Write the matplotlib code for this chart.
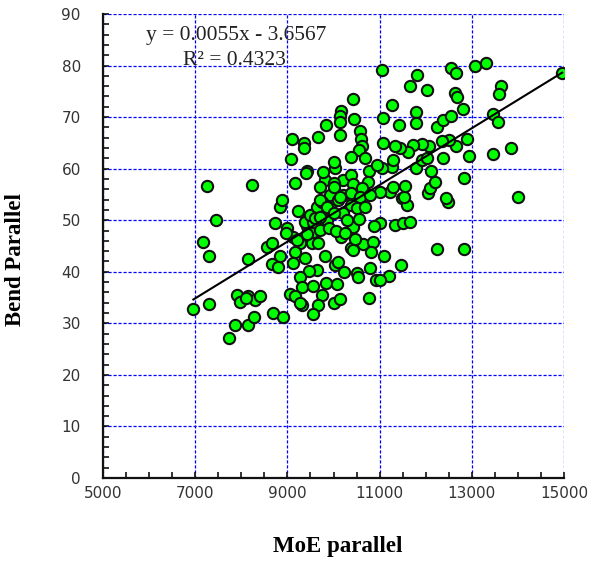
import numpy as np
import matplotlib.pyplot as plt
from matplotlib.ticker import MultipleLocator

# ── Data (MoE parallel vs Bend Parallel) ─────────────────────────────────────
moe = [
    6960, 7300, 7180, 7300, 7450, 7250, 8240, 7740, 7860, 8150,
    8270, 7900, 7970, 8150, 8300, 8400, 8110, 8150, 8560, 8660,
    8660, 8800, 8840, 8680, 8910, 8730, 8840, 8880, 9000, 9070,
    9100, 9360, 9370, 9660, 9830, 9430, 9400, 9165, 9815, 9240,
    9400, 9420, 9130, 9270, 9530, 9670, 9720, 9560, 9165, 9130,
    9380, 9815, 9635, 9475, 9270, 9310, 9560, 9840, 10070, 9060,
    9165, 9740, 9310, 9670, 9560, 10000, 10140, 10780, 10030, 10100,
    10230, 10500, 10540, 10790, 10920, 10160, 10390, 10420, 10630, 10860,
    10810, 11095, 11460, 11210, 11010, 12250, 12840, 11010, 10880, 11330,
    11500, 11670, 10420, 10470, 12475, 14010, 11480, 11590, 11520, 11225,
    12450, 12060, 12090, 11550, 11300, 12200, 12830, 12110, 11800, 11260,
    11045, 11910, 11300, 12380, 12945, 13470, 13850, 12020, 12900, 12660,
    12510, 12350, 12080, 11910, 11730, 11620, 11440, 11330, 11080, 11080,
    11420, 11800, 11800, 12240, 12370, 12540, 12815, 11260, 11670, 11820,
    12030, 12635, 12685, 12540, 12660, 13070, 13310, 11050, 14960, 13630,
    13590, 13450, 13560, 10420, 10160, 10140, 10440, 10140, 10140, 10570,
    10600, 10610, 10560, 10370, 10680, 10030, 10210, 10390, 10780, 10940,
    10000, 10420, 10750, 10610, 9920, 10210, 10390, 11010, 9920, 10100,
    10210, 10390, 10500, 10570, 10680, 10790, 9380, 9200, 8980, 9420,
    9270, 9710, 9850, 9560, 9500, 9650, 9750, 9600, 9710, 10000,
    9710, 9850, 10140, 9710, 10000, 9710, 10300, 10550, 9900, 10050,
    10250, 9780, 10020,
]
bend = [
    32.7, 33.7, 45.8, 43.0, 50.0, 56.6, 56.8, 27.2, 29.7, 29.7,
    31.3, 35.5, 34.2, 35.3, 34.5, 35.3, 34.9, 42.4, 44.9, 45.6,
    41.5, 40.9, 43.0, 32.1, 31.2, 49.4, 52.6, 53.9, 48.4, 61.8,
    65.8, 64.9, 64.1, 66.1, 68.5, 59.6, 59.2, 57.2, 57.8, 51.7,
    50.1, 48.8, 46.8, 45.5, 45.5, 45.5, 48.6, 47.8, 43.9, 41.7,
    42.6, 43.1, 40.4, 40.2, 38.9, 37.0, 37.2, 37.8, 37.6, 35.7,
    35.3, 35.4, 33.6, 33.6, 31.8, 34.0, 34.7, 34.9, 41.3, 41.9,
    40.0, 39.8, 39.0, 40.7, 38.4, 46.7, 44.6, 44.2, 45.4, 45.8,
    43.9, 43.1, 41.3, 39.2, 38.5, 44.4, 44.4, 49.4, 48.8, 49.1,
    49.5, 49.7, 48.6, 46.3, 53.6, 54.6, 54.3, 53.0, 54.6, 55.5,
    54.3, 55.2, 56.2, 56.6, 56.5, 57.5, 58.2, 59.6, 60.1, 60.4,
    60.1, 61.6, 61.7, 62.0, 62.5, 62.9, 64.1, 62.0, 65.7, 64.4,
    65.6, 65.3, 64.4, 64.8, 64.6, 63.3, 64.0, 64.4, 64.9, 69.8,
    68.5, 70.9, 68.8, 68.0, 69.5, 70.2, 71.5, 72.4, 76.0, 78.2,
    75.3, 74.7, 73.9, 79.5, 78.6, 79.9, 80.4, 79.2, 78.5, 76.0,
    74.4, 70.6, 69.0, 73.5, 71.1, 70.2, 69.6, 69.1, 66.5, 67.4,
    65.8, 64.3, 63.6, 62.3, 62.0, 60.1, 57.8, 58.8, 59.6, 60.7,
    57.2, 57.0, 57.5, 56.2, 54.9, 54.9, 55.2, 55.5, 52.3, 53.9,
    51.4, 53.0, 52.3, 54.6, 52.6, 54.9, 49.7, 46.2, 47.6, 47.3,
    33.9, 49.4, 50.0, 49.7, 51.0, 52.5, 53.5, 50.5, 56.5, 56.5,
    53.9, 52.6, 54.6, 50.7, 51.4, 48.1, 50.0, 50.3, 48.5, 48.0,
    47.5, 59.3, 61.2,
]

# linear trend reported on the chart
SLOPE = 0.0055
INTERCEPT = -3.6567
R2 = 0.4323

x_ticks = [5000, 7000, 9000, 11000, 13000, 15000]
y_ticks = [0, 10, 20, 30, 40, 50, 60, 70, 80, 90]

# ── Figure ────────────────────────────────────────────────────────────────────
fig = plt.figure(figsize=(5.95, 5.72), dpi=100)
ax = fig.add_axes([103 / 595, 1 - 478 / 572, 461 / 595, 464 / 572])

ax.scatter(moe, bend, s=66, facecolor="#00FF00", edgecolor="#111111",
           linewidth=1.5, zorder=3)

xs = np.array([min(moe), max(moe)])
ax.plot(xs, SLOPE * xs + INTERCEPT, color="black", linewidth=1.5, zorder=4)

ax.set_xlim(5000, 15000)
ax.set_ylim(0, 90)
ax.set_xticks(x_ticks)
ax.set_yticks(y_ticks)
ax.xaxis.set_minor_locator(MultipleLocator(500))
ax.yaxis.set_minor_locator(MultipleLocator(2))

ax.grid(True, which="major", color="#0000FF", linestyle=(0, (2.5, 1.5)),
        linewidth=0.9, zorder=0)
ax.set_axisbelow(True)

for side in ("top", "right"):
    ax.spines[side].set_visible(False)
for side in ("left", "bottom"):
    ax.spines[side].set_linewidth(1.6)
    ax.spines[side].set_color("#111111")

ax.tick_params(which="both", direction="in", length=4, width=1.2,
               top=False, right=False, color="#111111")
ax.tick_params(axis="y", which="major", pad=16, labelsize=11,
               labelcolor="#333333")
ax.tick_params(axis="x", which="major", pad=6, labelsize=11,
               labelcolor="#333333")

ax.set_xlabel("MoE parallel", family="Liberation Serif", fontweight="bold",
              fontsize=16.5)
ax.set_ylabel("Bend Parallel", family="Liberation Serif", fontweight="bold",
              fontsize=16.5)
ax.xaxis.set_label_coords(0.51, -0.125)
ax.yaxis.set_label_coords(-0.168, 0.47)

ax.text(7880, 85.9, f"y = {SLOPE:.4f}x - {abs(INTERCEPT):.4f}",
        family="Liberation Serif", fontsize=15.5, color="#222222",
        ha="center", va="center")
ax.text(7860, 81.0, f"R\u00b2 = {R2:.4f}", family="Liberation Serif",
        fontsize=15.5, color="#222222", ha="center", va="center")

fig.savefig("out.png", dpi=100)
